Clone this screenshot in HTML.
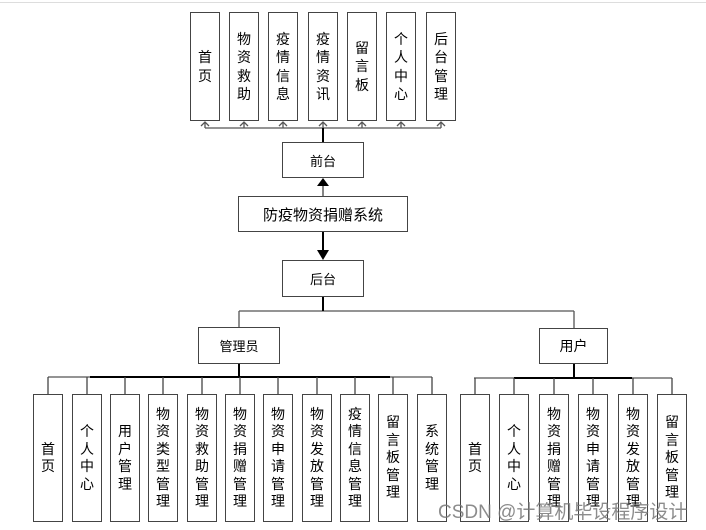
<!DOCTYPE html>
<html><head><meta charset="utf-8"><style>
body{margin:0;background:#fff;width:706px;height:530px;position:relative;overflow:hidden;font-family:"Liberation Sans","Noto Sans CJK SC",sans-serif;color:#000}
.b{position:absolute;box-sizing:border-box;border:1.5px solid #444;background:#fff;display:flex;align-items:center;justify-content:center;text-align:center}
.v{font-size:14px;line-height:17.5px;word-break:break-all;padding:0 7px}
.t{line-height:18.5px}
.h{font-size:13px}
svg{position:absolute;left:0;top:0}
</style></head><body>
<svg width="706" height="530">
<line x1="0" y1="2.5" x2="706" y2="2.5" stroke="#ddd"/>
<g stroke="#555" stroke-width="1.3" fill="none">
<line x1="205" y1="128" x2="441" y2="128"/>
<line x1="205" y1="128" x2="205" y2="122"/><polyline points="201,126 205,122 209,126"/>
<line x1="244" y1="128" x2="244" y2="122"/><polyline points="240,126 244,122 248,126"/>
<line x1="283" y1="128" x2="283" y2="122"/><polyline points="279,126 283,122 287,126"/>
<line x1="323" y1="128" x2="323" y2="122"/><polyline points="319,126 323,122 327,126"/>
<line x1="362" y1="128" x2="362" y2="122"/><polyline points="358,126 362,122 366,126"/>
<line x1="401" y1="128" x2="401" y2="122"/><polyline points="397,126 401,122 405,126"/>
<line x1="441" y1="128" x2="441" y2="122"/><polyline points="437,126 441,122 445,126"/>
<line x1="239" y1="311" x2="574" y2="311"/>
<line x1="239" y1="311" x2="239" y2="327"/>
<line x1="574" y1="311" x2="574" y2="328"/>
<line x1="48" y1="377" x2="432" y2="377"/>
<line x1="474" y1="378" x2="672" y2="378"/>
</g>
<g stroke="#000" stroke-width="2">
<line x1="323" y1="128" x2="323" y2="142"/>
<line x1="323" y1="232" x2="323" y2="252"/>
<line x1="323" y1="297" x2="323" y2="311"/>
<line x1="239" y1="364" x2="239" y2="377"/>
<line x1="574" y1="364" x2="574" y2="378"/>
<line x1="90" y1="377" x2="390" y2="377"/>
<line x1="514" y1="378" x2="632" y2="378"/>
</g>
<g stroke="#444" stroke-width="1.3">
<line x1="323" y1="186" x2="323" y2="196"/>
<line x1="48" y1="377" x2="48" y2="394"/><line x1="87" y1="377" x2="87" y2="394"/><line x1="125" y1="377" x2="125" y2="394"/><line x1="163" y1="377" x2="163" y2="394"/><line x1="202" y1="377" x2="202" y2="394"/><line x1="240" y1="377" x2="240" y2="394"/><line x1="278" y1="377" x2="278" y2="394"/><line x1="317" y1="377" x2="317" y2="394"/><line x1="355" y1="377" x2="355" y2="394"/><line x1="393" y1="377" x2="393" y2="394"/><line x1="432" y1="377" x2="432" y2="394"/>
<line x1="475" y1="378" x2="475" y2="394"/><line x1="514" y1="378" x2="514" y2="394"/><line x1="554" y1="378" x2="554" y2="394"/><line x1="593" y1="378" x2="593" y2="394"/><line x1="633" y1="378" x2="633" y2="394"/><line x1="672" y1="378" x2="672" y2="394"/>
</g>
<polygon points="317,186 329,186 323,178" fill="#000"/>
<polygon points="317,250 329,250 323,260" fill="#000"/>
</svg>
<div class="b v t" style="left:190px;top:12px;width:30px;height:109px">首页</div>
<div class="b v t" style="left:229px;top:12px;width:30px;height:109px">物资救助</div>
<div class="b v t" style="left:268px;top:12px;width:30px;height:109px">疫情信息</div>
<div class="b v t" style="left:308px;top:12px;width:30px;height:109px">疫情资讯</div>
<div class="b v t" style="left:347px;top:12px;width:30px;height:109px">留言板</div>
<div class="b v t" style="left:386px;top:12px;width:30px;height:109px">个人中心</div>
<div class="b v t" style="left:426px;top:12px;width:30px;height:109px">后台管理</div>
<div class="b h" style="left:282px;top:142px;width:82px;height:36px">前台</div>
<div class="b" style="left:238px;top:196px;width:170px;height:36px;font-size:15px">防疫物资捐赠系统</div>
<div class="b h" style="left:282px;top:260px;width:82px;height:37px">后台</div>
<div class="b h" style="left:198px;top:327px;width:82px;height:37px">管理员</div>
<div class="b" style="left:539px;top:328px;width:69px;height:36px;font-size:14px">用户</div>
<div class="b v" style="left:33px;top:394px;width:30px;height:128px">首页</div>
<div class="b v" style="left:72px;top:394px;width:30px;height:128px">个人中心</div>
<div class="b v" style="left:110px;top:394px;width:30px;height:128px">用户管理</div>
<div class="b v" style="left:148px;top:394px;width:30px;height:128px">物资类型管理</div>
<div class="b v" style="left:187px;top:394px;width:30px;height:128px">物资救助管理</div>
<div class="b v" style="left:225px;top:394px;width:30px;height:128px">物资捐赠管理</div>
<div class="b v" style="left:263px;top:394px;width:30px;height:128px">物资申请管理</div>
<div class="b v" style="left:302px;top:394px;width:30px;height:128px">物资发放管理</div>
<div class="b v" style="left:340px;top:394px;width:30px;height:128px">疫情信息管理</div>
<div class="b v" style="left:378px;top:394px;width:30px;height:128px">留言板管理</div>
<div class="b v" style="left:417px;top:394px;width:30px;height:128px">系统管理</div>
<div class="b v" style="left:460px;top:394px;width:30px;height:128px">首页</div>
<div class="b v" style="left:499px;top:394px;width:30px;height:128px">个人中心</div>
<div class="b v" style="left:539px;top:394px;width:30px;height:128px">物资捐赠管理</div>
<div class="b v" style="left:578px;top:394px;width:30px;height:128px">物资申请管理</div>
<div class="b v" style="left:618px;top:394px;width:30px;height:128px">物资发放管理</div>
<div class="b v" style="left:657px;top:394px;width:30px;height:128px">留言板管理</div>
<div style="position:absolute;left:438px;top:497px;font-size:19px;color:rgba(120,120,120,0.85);white-space:nowrap">CSDN @计算机毕设程序设计</div>
</body></html>
